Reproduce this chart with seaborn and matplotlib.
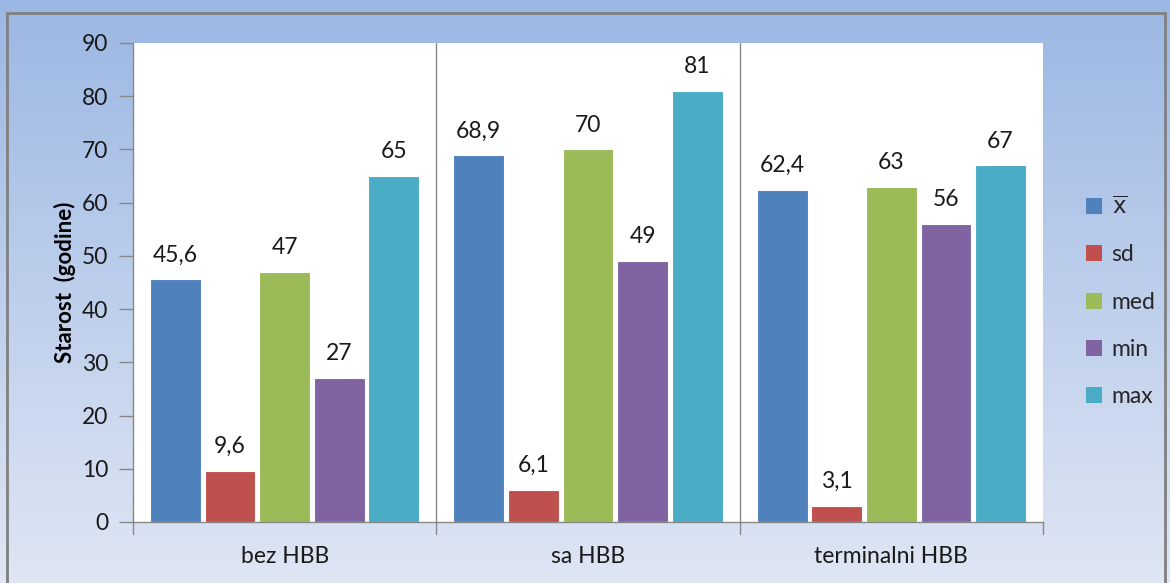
import numpy as np
import pandas as pd
import matplotlib
matplotlib.use("Agg")
import matplotlib.pyplot as plt
import seaborn as sns
from matplotlib.patches import Rectangle

categories = ["bez HBB", "sa HBB", "terminalni HBB"]
series = ["x", "sd", "med", "min", "max"]
series_labels = [r"$\mathrm{\overline{x}}$", "sd", "med", "min", "max"]
xbar_vals = [45.6, 68.9, 62.4]
sd_vals = [9.6, 6.1, 3.1]
med_vals = [47, 70, 63]
min_vals = [27, 49, 56]
max_vals = [65, 81, 67]
yticks = [0, 10, 20, 30, 40, 50, 60, 70, 80, 90]

colors = ["#4F81BD", "#C0504D", "#9BBB59", "#8064A2", "#4BACC6"]

vals = [xbar_vals, sd_vals, med_vals, min_vals, max_vals]
rows = []
for s, v in zip(series, vals):
    for c, val in zip(categories, v):
        rows.append({"cat": c, "series": s, "val": val})
df = pd.DataFrame(rows)

sns.set_theme(style="white")
plt.rcParams["font.family"] = ["Lato", "DejaVu Sans"]

fig = plt.figure(figsize=(11.7, 5.83), dpi=100)

# gradient background
bg = fig.add_axes([0, 0, 1, 1], zorder=-10)
top = np.array([0x9B, 0xB7, 0xE3]) / 255
bot = np.array([0xDF, 0xE6, 0xF4]) / 255
t = np.linspace(0, 1, 256)[:, None]
grad = top[None, :] * (1 - t) + bot[None, :] * t
bg.imshow(grad[:, None, :], aspect="auto", extent=[0, 1, 0, 1], origin="upper")
bg.add_patch(Rectangle((7 / 1170, -0.01), (1165 - 7) / 1170, 1 - 13 / 583 + 0.01,
                       fill=False, edgecolor="#808080", lw=2.0))
bg.set_xlim(0, 1); bg.set_ylim(0, 1)
bg.axis("off")

ax = fig.add_axes([133 / 1170, 1 - 522 / 583, (1043 - 133) / 1170, (522 - 43) / 583])
ax.set_facecolor("white")

sns.barplot(data=df, x="cat", y="val", hue="series", order=categories,
            hue_order=series, palette=colors, width=0.9, gap=0.07,
            edgecolor="white", linewidth=0.8, saturation=1, ax=ax, legend=True)

for cont in ax.containers:
    labels = [f"{v:g}".replace(".", ",") for v in cont.datavalues]
    ax.bar_label(cont, labels=labels, padding=10, fontsize=16.5, color="#1a1a1a")

ax.set_ylim(0, 90)
ax.set_xlim(-0.5, 2.5)
ax.set_yticks(yticks)
ax.set_yticklabels([str(v) for v in yticks], fontsize=16.5, color="#1a1a1a")
ax.set_xlabel("")
ax.set_ylabel("Starost  (godine)", fontsize=16, fontweight="bold", color="black", labelpad=4)
ax.tick_params(axis="y", length=10, width=1, color="#888888", direction="out", pad=8, left=True)
ax.set_xticks([0, 1, 2])
ax.set_xticklabels(categories, fontsize=16.5, color="#1a1a1a")
ax.tick_params(axis="x", length=0, pad=17)

for sp in ["top", "right"]:
    ax.spines[sp].set_visible(False)
for sp in ["left", "bottom"]:
    ax.spines[sp].set_color("#888888")
    ax.spines[sp].set_linewidth(1)

for xb in [-0.5, 0.5, 1.5, 2.5]:
    ax.plot([xb, xb], [-2.2, 90 if xb in (0.5, 1.5) else 0], color="#888888", lw=1,
            clip_on=False, zorder=5)

handles, _ = ax.get_legend_handles_labels()
leg = ax.legend(handles, series_labels, loc="center left", bbox_to_anchor=(1.025, 0.46),
                frameon=False, fontsize=16.5, handlelength=0.7, handleheight=0.7,
                labelspacing=1.15, handletextpad=0.4)
for h in leg.legend_handles:
    h.set_edgecolor("none")

fig.savefig("out.png", dpi=100)
